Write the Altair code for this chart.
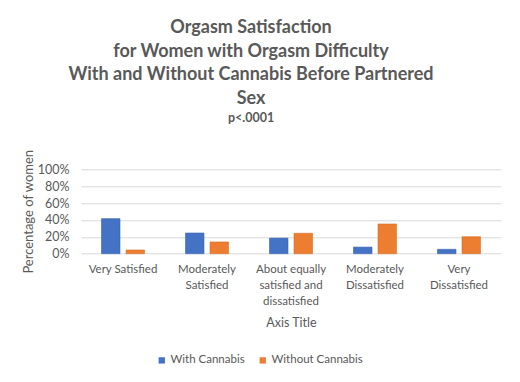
import altair as alt
import pandas as pd

categories = [
    "Very Satisfied",
    "Moderately Satisfied",
    "About equally satisfied and dissatisfied",
    "Moderately Dissatisfied",
    "Very Dissatisfied",
]
label_lines = [
    ["Very Satisfied"],
    ["Moderately", "Satisfied"],
    ["About equally", "satisfied and", "dissatisfied"],
    ["Moderately", "Dissatisfied"],
    ["Very", "Dissatisfied"],
]
series = ["With Cannabis", "Without Cannabis"]
with_cannabis = [0.415, 0.245, 0.185, 0.078, 0.052]
without_cannabis = [0.044, 0.139, 0.242, 0.352, 0.201]
colors = ["#4472C4", "#ED7D31"]
y_ticks = [0, 0.2, 0.4, 0.6, 0.8, 1.0]

rows = []
for c, a, b in zip(categories, with_cannabis, without_cannabis):
    rows.append({"category": c, "series": series[0], "value": a})
    rows.append({"category": c, "series": series[1], "value": b})
df = pd.DataFrame(rows)

label_map = "{" + ", ".join(
    '"%s": [%s]' % (c, ", ".join('"%s"' % s for s in lines))
    for c, lines in zip(categories, label_lines)
) + "}"

TXT = "#595959"
FONT = "Lato"

chart = alt.Chart(df).mark_bar(strokeWidth=0.6).encode(
    x=alt.X(
        "category:N",
        sort=categories,
        scale=alt.Scale(paddingInner=0.488, paddingOuter=0.244),
        axis=alt.Axis(
            title="Axis Title",
            labelAngle=0,
            labelExpr=label_map + "[datum.label]",
            labelFont=FONT, labelFontSize=11.5, labelColor=TXT,
            labelPadding=10, labelLineHeight=15.7, labelBaseline="top",
            ticks=False, domain=False, labelLimit=200,
            titleFont=FONT, titleFontSize=12.5, titleColor=TXT, titleFontWeight="normal",
            titleY=68.5, titleBaseline="middle",
        ),
    ),
    xOffset=alt.XOffset("series:N", sort=series,
                        scale=alt.Scale(paddingInner=0.245, paddingOuter=0)),
    y=alt.Y(
        "value:Q",
        scale=alt.Scale(domain=[0, 1]),
        axis=alt.Axis(
            title="Percentage of women",
            values=y_ticks, format=".0%",
            labelFont=FONT, labelFontSize=12.5, labelColor=TXT, labelPadding=12,
            ticks=False, domain=False,
            gridColor="#D9D9D9", gridWidth=1,
            titleFont=FONT, titleFontSize=13, titleColor=TXT, titleFontWeight="normal",
            titleX=-53, titleY=42, titleAlign="center", titleBaseline="middle",
        ),
    ),
    color=alt.Color(
        "series:N",
        sort=series,
        scale=alt.Scale(domain=series, range=colors),
        legend=alt.Legend(
            title=None, orient="none", direction="horizontal",
            legendX=75, legendY=185,
            symbolType="square", symbolSize=40, symbolStrokeWidth=0,
            labelFont=FONT, labelFontSize=11.5, labelColor=TXT,
            columnPadding=12, labelOffset=3,
        ),
    ),
    stroke=alt.Stroke("series:N", sort=series,
                      scale=alt.Scale(domain=series, range=["#3A64B0", "#D66E28"]),
                      legend=None),
).properties(
    width=420,
    height=84.4,
    title=alt.TitleParams(
        text=["Orgasm Satisfaction", "for Women with Orgasm Difficulty",
              "With and Without Cannabis Before Partnered", "Sex"],
        subtitle="p<.0001",
        font=FONT, fontSize=18, fontWeight="bold", color=TXT,
        lineHeight=23.5,
        subtitleFont=FONT, subtitleFontSize=12.5, subtitleFontWeight="bold",
        subtitleColor=TXT, subtitlePadding=4,
        anchor="middle", dx=-40, offset=25,
    ),
    autosize=alt.AutoSizeParams(type="none"),
    padding={"left": 73, "top": 161.3, "right": 10, "bottom": 120},
).configure_view(stroke=None)

chart.save("out.html", embed_options={"renderer": "svg", "actions": False})
